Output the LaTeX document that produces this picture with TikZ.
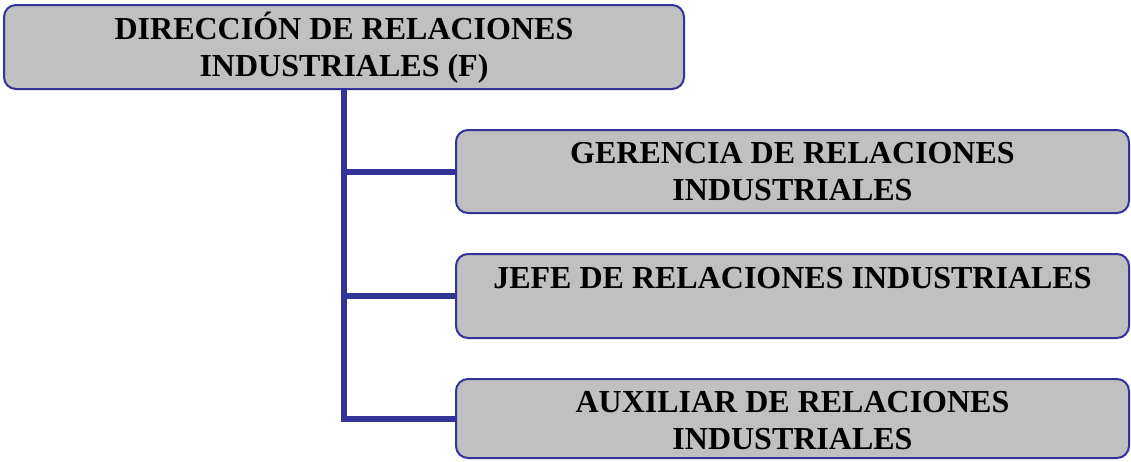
\documentclass[tikz,border=0pt]{standalone}
\usepackage{fontspec}
\setmainfont{Liberation Serif}
\usetikzlibrary{calc}
\definecolor{boxfill}{HTML}{C0C0C0}
\definecolor{boxline}{HTML}{333399}
\begin{document}
\begin{tikzpicture}[x=1pt,y=-1pt,
  orgbox/.style={draw=boxline, line width=2pt, fill=boxfill, rounded corners=12pt,
    inner sep=0pt},
  lbl/.style={anchor=base, inner sep=0pt, font=\fontsize{32}{37}\selectfont\bfseries},
  link/.style={draw=boxline, line width=6pt}]
\useasboundingbox (0,0) rectangle (1131,461);
\node[orgbox, minimum width=680pt, minimum height=84pt] (dir) at (344,47) {};
\node[orgbox, minimum width=673pt, minimum height=83pt] (ger) at (792.5,171.5) {};
\node[orgbox, minimum width=673pt, minimum height=84pt] (jefe) at (792.5,296) {};
\node[orgbox, minimum width=673pt, minimum height=79pt] (aux) at (792.5,418.5) {};
\node[lbl] (dir1) at ($(dir.north)+(0,35)$) {DIRECCIÓN DE RELACIONES};
\node[lbl] (dir2) at ($(dir.north)+(0,72)$) {INDUSTRIALES (F)};
\node[lbl] (ger1) at ($(ger.north)+(0,34)$) {GERENCIA DE RELACIONES};
\node[lbl] (ger2) at ($(ger.north)+(0,71)$) {INDUSTRIALES};
\node[lbl] (jefe1) at ($(jefe.north)+(0,35)$) {JEFE DE RELACIONES INDUSTRIALES};
\node[lbl] (aux1) at ($(aux.north)+(0,34)$) {AUXILIAR DE RELACIONES};
\node[lbl] (aux2) at ($(aux.north)+(0,71)$) {INDUSTRIALES};
\draw[link] (dir.south) |- (ger.west);
\draw[link] (dir.south) |- (jefe.west);
\draw[link] (dir.south) |- (aux.west);
\end{tikzpicture}
\end{document}
